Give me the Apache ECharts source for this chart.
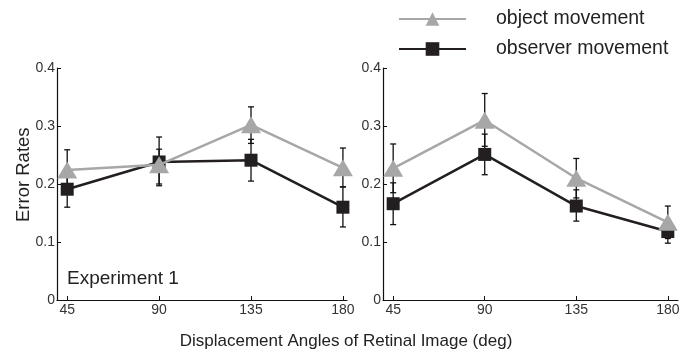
<!DOCTYPE html>
<html><head><meta charset="utf-8">
<script src="https://cdn.jsdelivr.net/npm/echarts@6/dist/echarts.min.js"></script>
<style>html,body{margin:0;padding:0;background:#fff}#c{width:692px;height:360px}</style>
</head><body><div id="c"></div>
<script>
const angles = [45, 90, 135, 180];
const yTicks = [0, 0.1, 0.2, 0.3, 0.4];
// Experiment 1
const exp1Object = [0.224, 0.233, 0.302, 0.228];
const exp1ObjectLow = [0.190, 0.197, 0.270, 0.195];
const exp1ObjectHigh = [0.259, 0.281, 0.333, 0.262];
const exp1Observer = [0.191, 0.238, 0.241, 0.160];
const exp1ObserverLow = [0.160, 0.200, 0.205, 0.126];
const exp1ObserverHigh = [0.222, 0.260, 0.277, 0.195];
// Experiment 2
const exp2Object = [0.227, 0.310, 0.210, 0.134];
const exp2ObjectLow = [0.185, 0.265, 0.176, 0.106];
const exp2ObjectHigh = [0.269, 0.356, 0.244, 0.162];
const exp2Observer = [0.166, 0.251, 0.162, 0.118];
const exp2ObserverLow = [0.130, 0.216, 0.136, 0.098];
const exp2ObserverHigh = [0.202, 0.286, 0.190, 0.135];

const FONT = 'Liberation Sans, Arial, sans-serif';
const GRAY = '#a7a7a7';
const BLACK = '#231f20';

function pts(vals){ return angles.map((a,i)=>[a, vals[i]]); }
function errs(lo, hi){ return angles.map((a,i)=>[a, lo[i], hi[i]]); }

function errRender(params, api){
  const x = api.value(0), lo = api.value(1), hi = api.value(2);
  const p1 = api.coord([x, lo]), p2 = api.coord([x, hi]);
  const w = 3;
  const st = {stroke: '#111', lineWidth: 1.3};
  return {type:'group', children:[
    {type:'line', shape:{x1:p1[0], y1:p1[1], x2:p2[0], y2:p2[1]}, style: st},
    {type:'line', shape:{x1:p1[0]-w, y1:p1[1], x2:p1[0]+w, y2:p1[1]}, style: st},
    {type:'line', shape:{x1:p2[0]-w, y1:p2[1], x2:p2[0]+w, y2:p2[1]}, style: st}
  ]};
}

function xAxis(idx, min, max){
  return {type:'value', gridIndex: idx, min: min, max: max,
    axisLine:{show:true, onZero:false, lineStyle:{color:'#111', width:1.2}},
    axisTick:{show:true, inside:true, length:4, customValues: angles, lineStyle:{color:'#111'}},
    axisLabel:{show:true, customValues: angles, color:'#333', fontSize:14, fontFamily:FONT, margin:3},
    splitLine:{show:false}};
}
function yAxis(idx){
  return {type:'value', gridIndex: idx, min:0, max:0.4, interval:0.1,
    axisLine:{show:true, lineStyle:{color:'#111', width:1.2}},
    axisTick:{show:true, inside:true, length:4, lineStyle:{color:'#111'}},
    axisLabel:{color:'#333', fontSize:14, fontFamily:FONT, margin:2,
      formatter: v => (v===0 ? '0' : v.toFixed(1))},
    splitLine:{show:false}};
}

function seriesFor(idx, obj, objLo, objHi, obs, obsLo, obsHi){
  return [
    {type:'custom', xAxisIndex:idx, yAxisIndex:idx, renderItem: errRender,
      encode:{x:0, y:[1,2]}, data: errs(obsLo, obsHi), z:1, silent:true},
    {type:'custom', xAxisIndex:idx, yAxisIndex:idx, renderItem: errRender,
      encode:{x:0, y:[1,2]}, data: errs(objLo, objHi), z:1, silent:true},
    {name:'observer movement', type:'line', xAxisIndex:idx, yAxisIndex:idx, data: pts(obs),
      symbol:'rect', symbolSize:13, lineStyle:{color:BLACK, width:2.5},
      itemStyle:{color:BLACK}, z:3, animation:false},
    {name:'object movement', type:'line', xAxisIndex:idx, yAxisIndex:idx, data: pts(obj),
      symbol:'triangle', symbolSize:[20,17], lineStyle:{color:GRAY, width:2.5},
      itemStyle:{color:GRAY}, z:4, animation:false}
  ];
}

const chart = echarts.init(document.getElementById('c'), null, {renderer:'canvas'});
chart.setOption({
  animation:false,
  backgroundColor:'#fff',
  grid:[
    {left:57, top:68, width:290, height:232},
    {left:383, top:68, width:295, height:232}
  ],
  xAxis:[xAxis(0, 40, 182), xAxis(1, 40, 185)],
  yAxis:[yAxis(0), yAxis(1)],
  legend:{data:['object movement','observer movement'], orient:'vertical', left:393, top:4,
    itemWidth:67, itemHeight:17, itemGap:10,
    textStyle:{fontSize:19.5, fontFamily:FONT, color:'#222', padding:[0,0,0,25]}},
  graphic:[
    {type:'text', x:14, y:222, rotation:Math.PI/2,
      style:{text:'Error Rates', fontSize:18.5, fontFamily:FONT, fill:'#222'}},
    {type:'text', left:67, top:269, style:{text:'Experiment 1', fontSize:19, fontFamily:FONT, fill:'#222'}},
    {type:'text', left:'center', top:333, style:{text:'Displacement Angles of Retinal Image (deg)', fontSize:17, fontFamily:FONT, fill:'#222'}}
  ],
  series:[].concat(
    seriesFor(0, exp1Object, exp1ObjectLow, exp1ObjectHigh, exp1Observer, exp1ObserverLow, exp1ObserverHigh),
    seriesFor(1, exp2Object, exp2ObjectLow, exp2ObjectHigh, exp2Observer, exp2ObserverLow, exp2ObserverHigh)
  )
});
</script></body></html>
